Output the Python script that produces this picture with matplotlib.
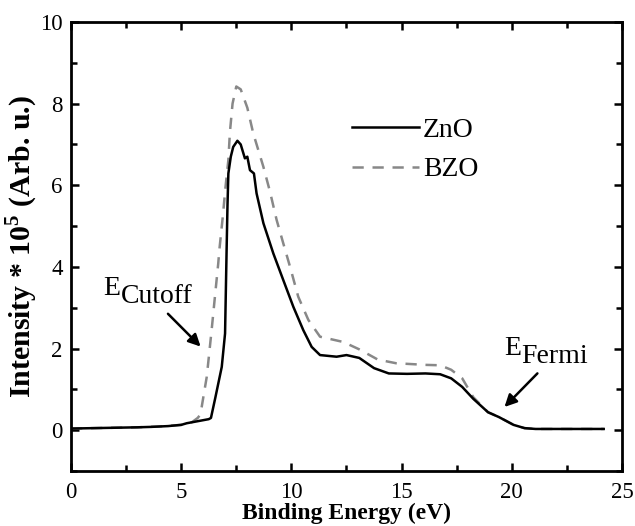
import matplotlib.pyplot as plt
from matplotlib.ticker import MultipleLocator

plt.rcParams["font.family"] = ["Liberation Serif", "DejaVu Serif"]

# ZnO spectrum (solid black)
zno_x = [0.0, 1.0, 2.0, 3.0, 3.6, 4.4, 5.0, 5.25, 5.75, 6.25, 6.35, 6.55, 6.84,
         6.99, 7.06, 7.1, 7.14, 7.25, 7.36, 7.55, 7.7, 7.89, 8.0, 8.12, 8.3,
         8.42, 8.73, 9.18, 9.63, 10.09, 10.54, 10.92, 11.3, 12.05, 12.5,
         13.08, 13.75, 14.42, 15.25, 16.08, 16.75, 17.25, 17.75, 18.25, 18.92,
         19.42, 20.08, 20.58, 21.08, 22.0, 23.0, 24.17]
zno_y = [0.04, 0.05, 0.06, 0.07, 0.08, 0.1, 0.13, 0.17, 0.22, 0.27, 0.3, 0.8,
         1.55, 2.37, 4.41, 5.5, 6.29, 6.7, 6.94, 7.09, 7.0, 6.66, 6.7, 6.37,
         6.29, 5.8, 5.07, 4.33, 3.68, 3.02, 2.45, 2.04, 1.84, 1.8, 1.84, 1.77,
         1.52, 1.39, 1.38, 1.39, 1.37, 1.27, 1.06, 0.77, 0.44, 0.32, 0.13,
         0.05, 0.03, 0.03, 0.03, 0.03]

# BZO spectrum (dashed grey)
bzo_x = [0.0, 1.0, 2.0, 3.0, 4.0, 5.0, 5.5, 5.75, 5.85, 5.93, 6.16, 6.38, 6.53,
         6.68, 6.73, 6.9, 7.0, 7.14, 7.21, 7.33, 7.5, 7.7, 8.0, 8.27, 8.73,
         9.03, 9.33, 9.63, 9.94, 10.31, 10.77, 11.3, 12.36, 13.08, 13.92,
         14.75, 16.08, 16.75, 17.25, 17.75, 18.25, 18.92, 19.42, 20.08, 20.58,
         21.08, 22.0, 23.0, 24.17]
bzo_y = [0.04, 0.05, 0.06, 0.07, 0.09, 0.13, 0.2, 0.3, 0.37, 0.57, 1.31, 2.45,
         3.27, 4.08, 4.41, 5.3, 5.9, 6.62, 7.3, 8.0, 8.42, 8.35, 7.9, 7.27,
         6.45, 5.84, 5.15, 4.58, 4.0, 3.27, 2.7, 2.29, 2.16, 1.98, 1.73, 1.64,
         1.6, 1.59, 1.48, 1.27, 0.81, 0.44, 0.32, 0.13, 0.05, 0.03, 0.03, 0.03,
         0.03]

fig = plt.figure(figsize=(6.35, 5.26), dpi=100)
ax = fig.add_axes([71 / 635, 55 / 526, 551 / 635, 449 / 526])

ax.plot(zno_x, zno_y, color="black", lw=1.8, label="ZnO", zorder=3)
ax.plot(bzo_x, bzo_y, color="#888888", lw=1.8, ls=(0, (4.5, 3.5)), label="BZO",
        zorder=2)

ax.set_xlim(0, 25)
ax.set_ylim(-1, 10)
ax.xaxis.set_major_locator(MultipleLocator(5))
ax.xaxis.set_minor_locator(MultipleLocator(2.5))
ax.yaxis.set_major_locator(MultipleLocator(2))
ax.yaxis.set_minor_locator(MultipleLocator(1))
ax.tick_params(which="both", direction="in", top=True, right=True,
               labelsize=16.5, width=1.8)
ax.tick_params(axis="x", pad=8)
ax.tick_params(axis="y", pad=6)
ax.tick_params(which="major", length=6)
ax.tick_params(which="minor", length=4)
for sp in ax.spines.values():
    sp.set_linewidth(2)

ax.set_xlabel("Binding Energy (eV)", fontsize=17, fontweight="bold", labelpad=0)
ax.set_ylabel(r"Intensity * 10$^{\mathregular{5}}$ (Arb. u.)", fontsize=21.5,
              fontweight="bold", labelpad=0)

leg = ax.legend(loc="upper left", bbox_to_anchor=(0.49, 0.812), frameon=False,
                fontsize=20, handlelength=2.4, handletextpad=0.15,
                labelspacing=0.5, borderaxespad=0)

# annotations: subscripts are nearly as large as the E
for ex, ey, sub in [(1.47, 3.31, "Cutoff"), (19.67, 1.85, "Fermi")]:
    e = ax.text(ex, ey, "E", fontsize=20)
    ax.annotate(sub, xy=(1, 0), xycoords=e, xytext=(0, -6),
                textcoords="offset points", fontsize=20, va="bottom")

ax.annotate("", xy=(5.97, 2.0), xytext=(4.31, 2.9),
            arrowprops=dict(arrowstyle="-|>", color="black", lw=1.8,
                            mutation_scale=18))
ax.annotate("", xy=(19.58, 0.52), xytext=(21.25, 1.44),
            arrowprops=dict(arrowstyle="-|>", color="black", lw=1.8,
                            mutation_scale=18))

fig.savefig("out.png", dpi=100)
